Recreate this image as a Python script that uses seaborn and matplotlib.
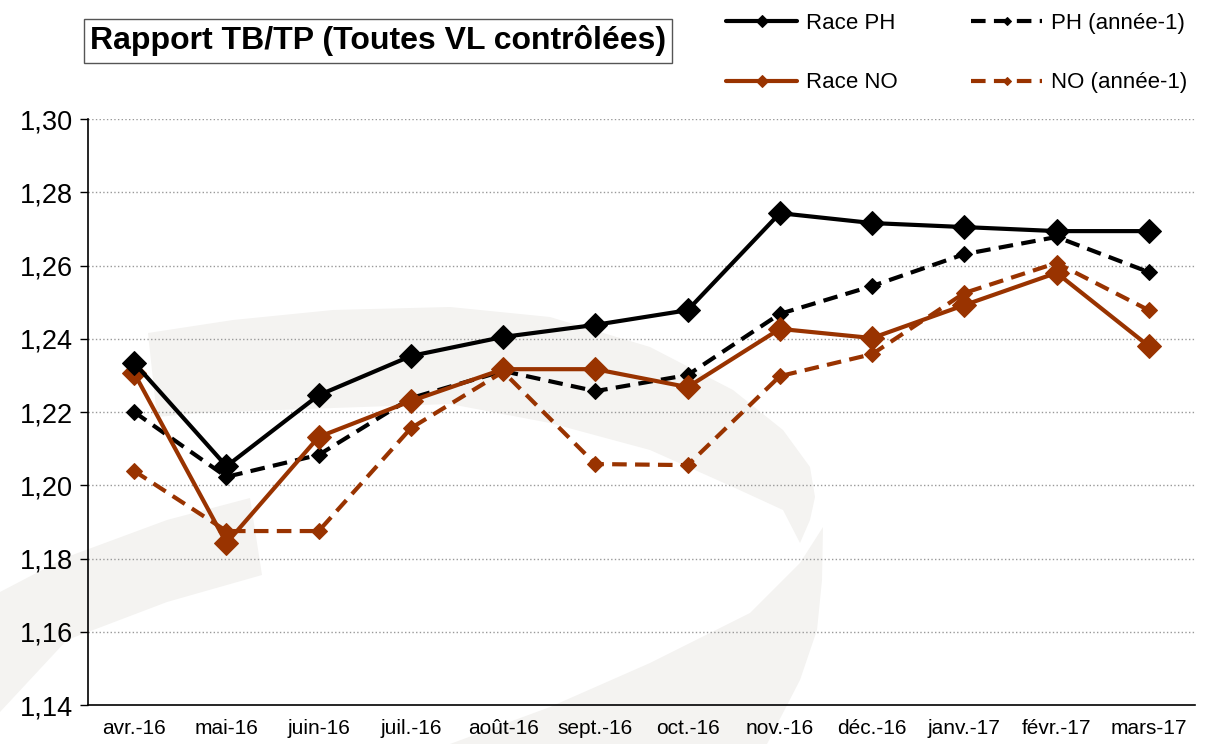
import numpy as np
import pandas as pd
import matplotlib
matplotlib.use("Agg")
import matplotlib.pyplot as plt
from matplotlib.patches import Polygon
import seaborn as sns

months = ['avr.-16', 'mai-16', 'juin-16', 'juil.-16', 'août-16', 'sept.-16',
          'oct.-16', 'nov.-16', 'déc.-16', 'janv.-17', 'févr.-17', 'mars-17']

race_ph = [1.2334, 1.2052, 1.2246, 1.2353, 1.2405, 1.2438,
           1.2478, 1.2743, 1.2716, 1.2705, 1.2694, 1.2694]
ph_prev = [1.2200, 1.2023, 1.2083, 1.2238, 1.2312, 1.2257,
           1.2301, 1.2468, 1.2544, 1.2631, 1.2678, 1.2582]
race_no = [1.2306, 1.1842, 1.2132, 1.2230, 1.2317, 1.2317,
           1.2268, 1.2427, 1.2402, 1.2492, 1.2580, 1.2380]
no_prev = [1.2039, 1.1875, 1.1875, 1.2156, 1.2310, 1.2058,
           1.2055, 1.2298, 1.2358, 1.2525, 1.2607, 1.2478]

yticks = [1.14, 1.16, 1.18, 1.20, 1.22, 1.24, 1.26, 1.28, 1.30]

sns.set_style("white")
plt.rcParams['font.family'] = ['Liberation Sans', 'DejaVu Sans']
plt.rcParams['text.color'] = 'black'
plt.rcParams['xtick.labelcolor'] = 'black'
plt.rcParams['ytick.labelcolor'] = 'black'

black = '#000000'
brown = '#993300'

W, H = 1207, 744
fig = plt.figure(figsize=(W / 100, H / 100), dpi=100)

# light grey logo watermark in the background (pixel outlines, y downwards)
logo = [
    [(148, 333), (233, 320), (333, 310), (450, 307), (550, 317), (650, 347),
     (733, 390), (783, 430), (810, 467), (815, 497), (810, 520), (800, 543),
     (783, 510), (733, 487), (650, 450), (550, 423), (450, 404), (333, 408),
     (200, 413), (157, 417)],
    [(250, 498), (167, 520), (67, 557), (0, 592), (0, 712), (67, 640),
     (167, 602), (262, 575)],
    [(823, 527), (822, 580), (817, 630), (800, 680), (767, 744), (450, 744),
     (550, 707), (650, 663), (750, 613), (800, 563)],
]
for pts in logo:
    xy = [(px / W, 1 - py / H) for px, py in pts]
    fig.patches.append(Polygon(xy, closed=True, transform=fig.transFigure,
                               facecolor='#f4f3f1', edgecolor='none', zorder=-5))

ax = fig.add_axes([0.073, 0.0524, 0.917, 0.7876])
ax.set_facecolor('none')
ax.set_zorder(2)

df = pd.DataFrame({'mois': months, 'ph': race_ph, 'ph1': ph_prev,
                   'no': race_no, 'no1': no_prev})
x = np.arange(len(months))

series = [
    ('ph1', 'PH (année-1)', black, (0, (3.5, 2)), 8),
    ('no1', 'NO (année-1)', brown, (0, (3.5, 2)), 8),
    ('no', 'Race NO', brown, '-', 12),
    ('ph', 'Race PH', black, '-', 12),
]
for col, label, color, ls, ms in series:
    sns.lineplot(x=x, y=df[col], ax=ax, color=color, linewidth=3,
                 marker='D', markersize=ms, markeredgecolor=color,
                 linestyle=ls, label=label)

ax.set_xlim(-0.5, len(months) - 0.5)
ax.set_ylim(1.14, 1.30)
ax.set_yticks(yticks)
ax.set_yticklabels([f"{v:.2f}".replace('.', ',') for v in yticks], fontsize=19.5)
ax.set_xticks(x)
ax.set_xticklabels(months, fontsize=15)
ax.set_xticks(np.arange(len(months) + 1) - 0.5, minor=True)
ax.tick_params(axis='x', which='major', length=0, pad=10)
ax.tick_params(axis='x', which='minor', length=6, width=1, color='black', direction='out')
ax.tick_params(axis='y', length=6, width=1, color='black', direction='out', left=True, pad=5)
ax.set_xlabel('')
ax.set_ylabel('')
for y in yticks[1:]:
    ax.axhline(y, color='#999999', linestyle=':', linewidth=1, zorder=0)
for s in ['top', 'right']:
    ax.spines[s].set_visible(False)
for s in ['left', 'bottom']:
    ax.spines[s].set_color('black')
    ax.spines[s].set_linewidth(1.2)

ax.get_legend().remove()
h, l = ax.get_legend_handles_labels()
order = ['Race PH', 'Race NO', 'PH (année-1)', 'NO (année-1)']
hh = [h[l.index(o)] for o in order]
fig.legend(hh, order, loc='upper left', bbox_to_anchor=(0.585, 1.01), ncol=2,
           frameon=False, fontsize=16, handlelength=3.2, labelspacing=1.75,
           columnspacing=3.3, handletextpad=0.4, markerscale=0.5)

fig.text(0.0745, 0.945, 'Rapport TB/TP (Toutes VL contrôlées)', fontsize=23,
         fontweight='bold', va='center', ha='left',
         bbox=dict(boxstyle='square,pad=0.2', facecolor='white', edgecolor='#555555', linewidth=1))

fig.savefig('out.png', dpi=100)
